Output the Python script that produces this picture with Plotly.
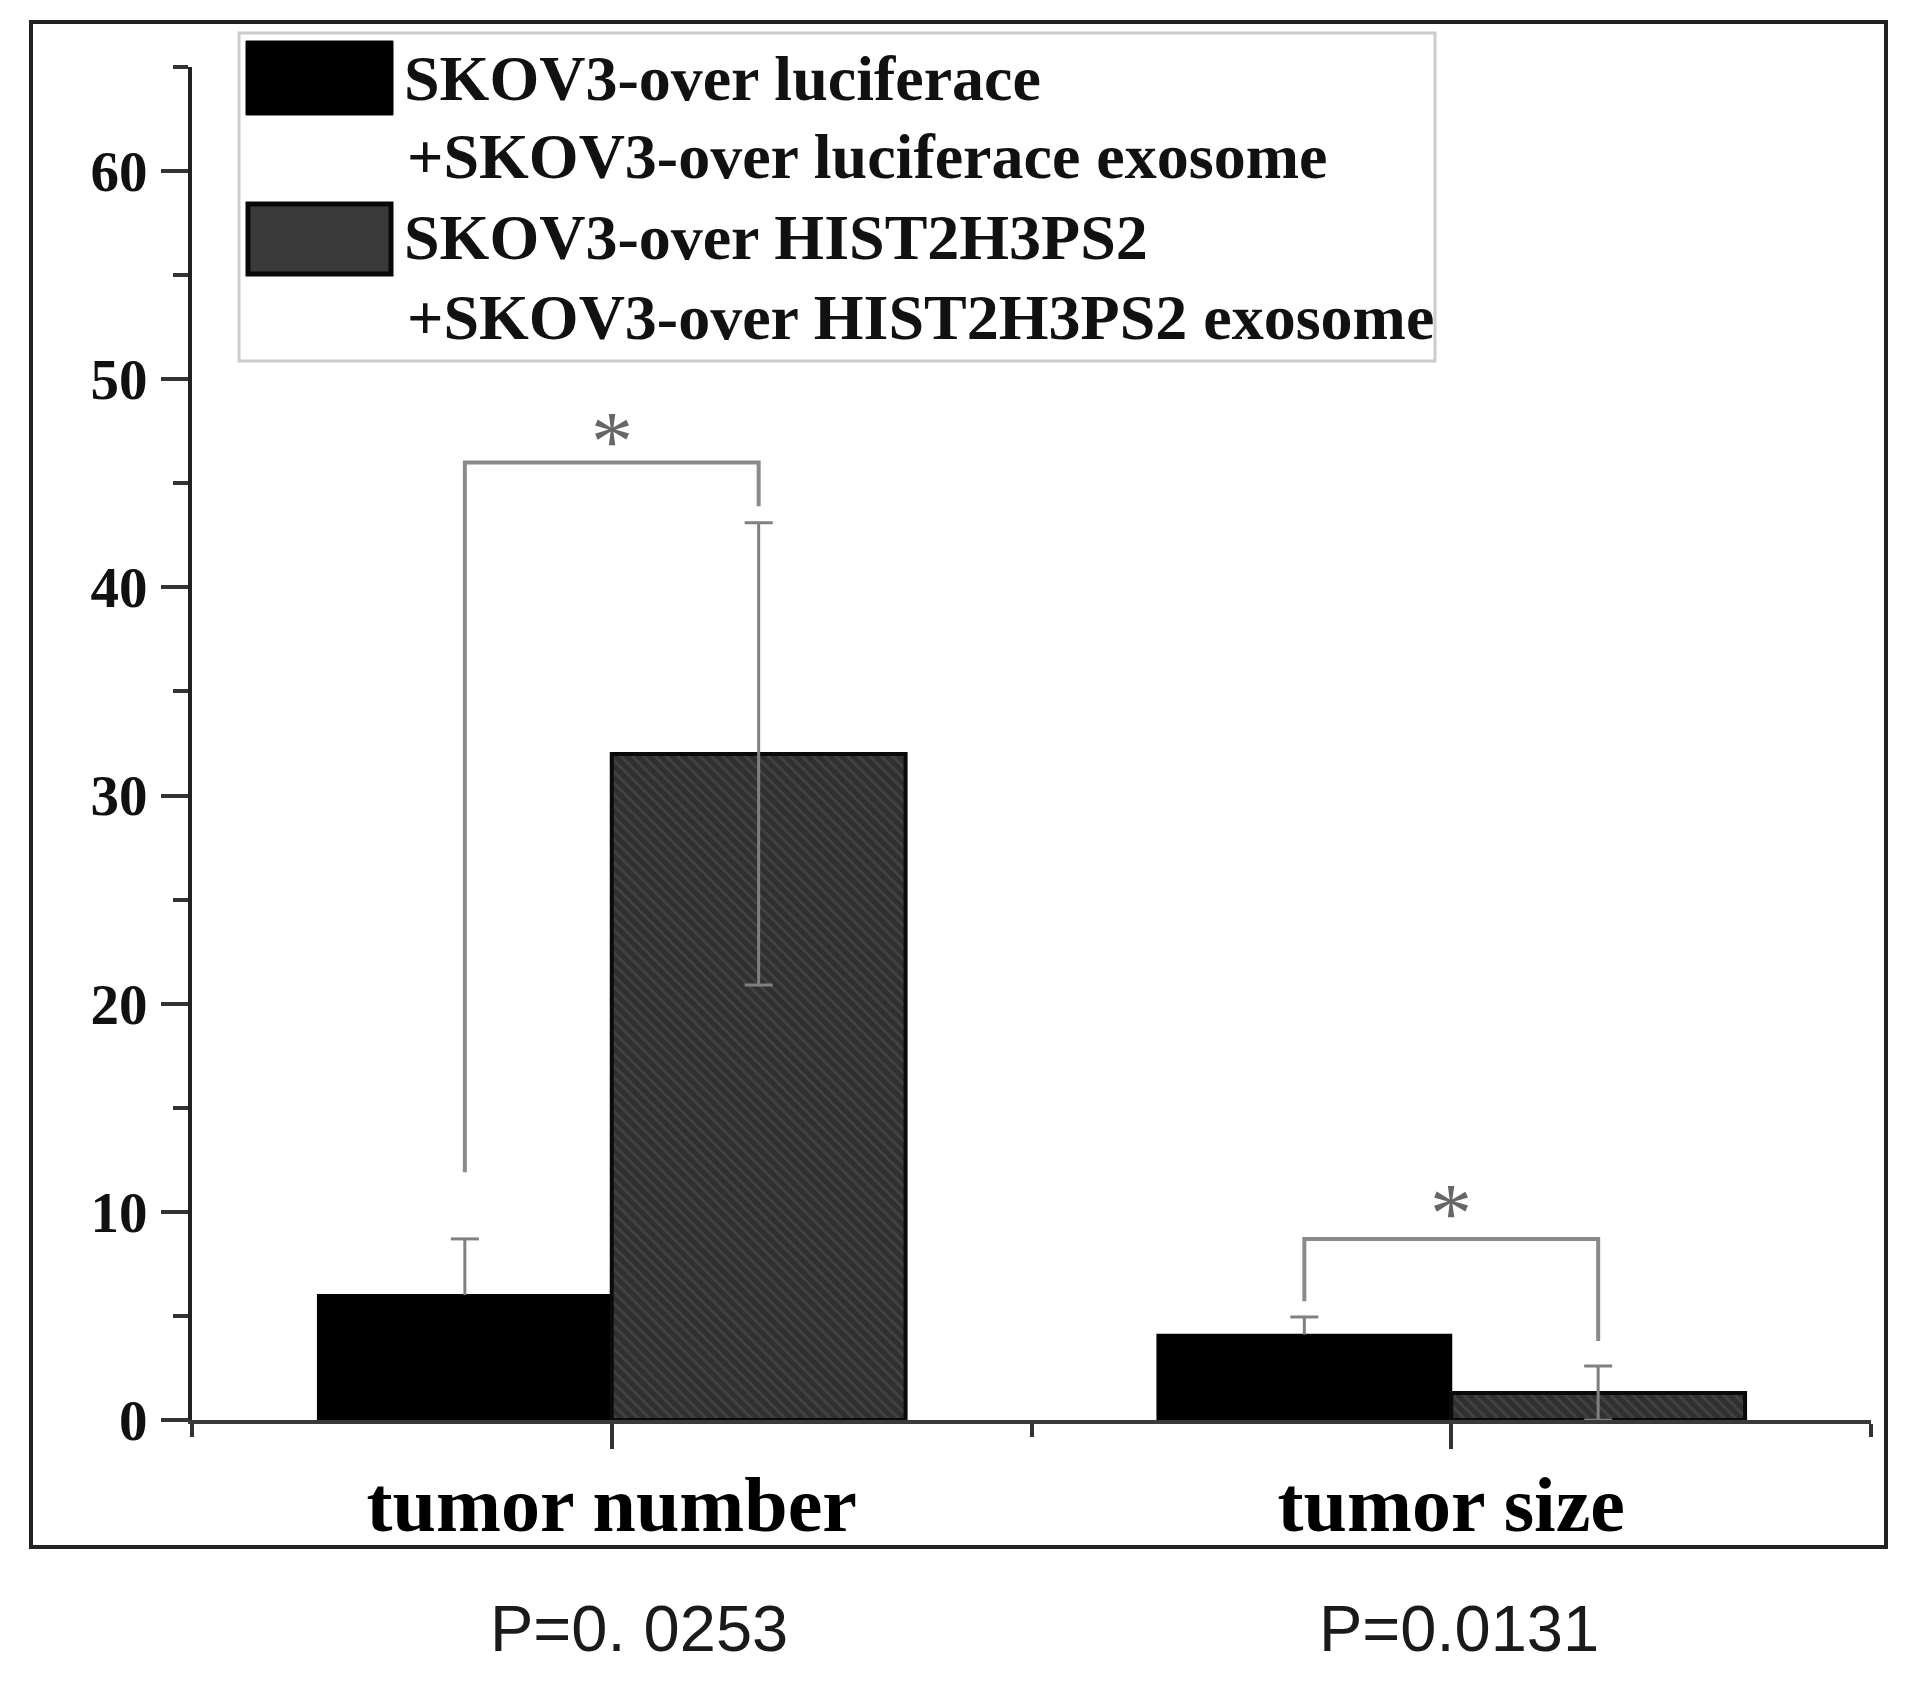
import plotly.graph_objects as go

# data
categories = ["tumor number", "tumor size"]
control_name = "SKOV3-over luciferace +SKOV3-over luciferace exosome"
hist_name = "SKOV3-over HIST2H3PS2 +SKOV3-over HIST2H3PS2 exosome"
control_mean = [6.0, 4.1]
control_err = [2.7, 0.85]
hist_mean = [32.0, 1.3]
hist_err = [11.1, 1.3]

# significance brackets (y values in data units)
sig_top = [46.0, 8.7]
sig_left_end = [11.9, 5.7]
sig_right_end = [43.9, 3.8]
sig_star_y = [47.5, 10.4]
sig_marks = ["*", "*"]
p_values = ["P=0. 0253", "P=0.0131"]

legend_lines = [
    ["SKOV3-over luciferace", "+SKOV3-over luciferace exosome"],
    ["SKOV3-over HIST2H3PS2", "+SKOV3-over HIST2H3PS2 exosome"],
]

# pixel layout of the figure
W, H = 1913, 1685
L, R, T, B = 192, 1871, 67, 1420


def px(x):
    return (x - L) / (R - L)


def py(y):
    return (B - y) / (B - T)


serif = "Liberation Serif"
err_color = "#808080"
bargap = 0.3
half_bar = (1 - bargap) / 4  # offset of each bar centre from the group centre
cap_hw = 14 * 2 / (R - L)     # 14 px cap half width, in x units (range is 2 wide)
xi = list(range(len(categories)))

fig = go.Figure()
fig.add_bar(
    x=xi, y=control_mean, name=control_name,
    marker=dict(color="black", line=dict(color="black", width=2)),
)
fig.add_bar(
    x=xi, y=hist_mean, name=hist_name,
    marker=dict(color="#353535", line=dict(color="#0a0a0a", width=4),
                pattern=dict(shape="\\", fgcolor="#555555", bgcolor="#303030",
                             size=8, solidity=0.35)),
    error_y=dict(type="data", array=hist_err, color=err_color, thickness=3, width=14),
)

# upper-only error whiskers of the black bars
wx, wy = [], []
for i in xi:
    c = i - half_bar
    top = control_mean[i] + control_err[i]
    wx += [c, c, None, c - cap_hw, c + cap_hw, None]
    wy += [control_mean[i], top, None, top, top, None]
fig.add_scatter(x=wx, y=wy, mode="lines", line=dict(color=err_color, width=3),
                hoverinfo="skip", showlegend=False)

# brackets
for i in xi:
    xl, xr = i - half_bar, i + half_bar
    fig.add_scatter(
        x=[xl, xl, xr, xr],
        y=[sig_left_end[i], sig_top[i], sig_top[i], sig_right_end[i]],
        mode="lines", line=dict(color="#8a8a8a", width=4),
        hoverinfo="skip", showlegend=False,
    )
    fig.add_annotation(
        x=i, y=sig_star_y[i], text=sig_marks[i], showarrow=False,
        xref="x", yref="y", yanchor="middle", yshift=-10,
        font=dict(family=serif, size=84, color="#666666"),
    )

# p values under the frame
p_shift = [27, 8]
for i in xi:
    fig.add_annotation(
        x=i, y=py(1628), xref="x", yref="paper", text=p_values[i],
        showarrow=False, xshift=p_shift[i], yanchor="middle",
        font=dict(family="Liberation Sans", size=65, color="#1a1a1a"),
    )

shapes = [
    # outer frame
    dict(type="rect", xref="paper", yref="paper", x0=px(31), x1=px(1886),
         y0=py(1547), y1=py(22), line=dict(color="#222222", width=4)),
    # legend box
    dict(type="rect", xref="paper", yref="paper", x0=px(239), x1=px(1435),
         y0=py(361), y1=py(33), line=dict(color="#cccccc", width=3),
         fillcolor="white"),
    # legend swatches
    dict(type="rect", xref="paper", yref="paper", x0=px(246), x1=px(393),
         y0=py(115), y1=py(41), line=dict(color="black", width=1),
         fillcolor="black"),
    dict(type="rect", xref="paper", yref="paper", x0=px(248), x1=px(391),
         y0=py(274), y1=py(204), line=dict(color="#080808", width=5),
         fillcolor="#3a3a3a"),
]

line_y = [78, 156, 238, 317]
line_x = [402, 405, 402, 405]
k = 0
for entry in legend_lines:
    for txt in entry:
        fig.add_annotation(
            x=px(line_x[k]), y=py(line_y[k]), xref="paper", yref="paper",
            text=txt, showarrow=False, xanchor="left", yanchor="middle",
            font=dict(family=serif, size=64, color="#111111", weight="bold"),
        )
        k += 1

fig.update_layout(
    width=W, height=H, autosize=False,
    margin=dict(l=L, r=W - R, t=T, b=H - B, pad=0),
    paper_bgcolor="white", plot_bgcolor="white",
    barmode="group", bargap=bargap, bargroupgap=0,
    showlegend=False, shapes=shapes,
)
fig.update_xaxes(
    range=[-0.5, 1.5], tickvals=xi, ticktext=categories,
    showline=True, linecolor="#3a3a3a", linewidth=4,
    ticks="outside", ticklen=25, tickwidth=4, tickcolor="#333333",
    minor=dict(tick0=-0.5, dtick=1, ticks="outside", ticklen=13,
               tickwidth=4, tickcolor="#333333"),
    showgrid=False, zeroline=False, ticklabelstandoff=-12,
    tickfont=dict(family=serif, size=78, color="black", weight="bold"),
)
fig.update_yaxes(
    range=[0, 65], tickvals=[0, 10, 20, 30, 40, 50, 60],
    showline=True, linecolor="#222222", linewidth=4,
    ticks="outside", ticklen=27, tickwidth=4, tickcolor="#333333",
    minor=dict(dtick=5, ticks="outside", ticklen=15, tickwidth=4,
               tickcolor="#333333"),
    showgrid=False, zeroline=False, ticklabelstandoff=2,
    tickfont=dict(family=serif, size=57, color="#111111", weight="bold"),
)

fig.write_html("out.html", config={"displayModeBar": False},
               post_script="document.body.style.margin='0px';")
